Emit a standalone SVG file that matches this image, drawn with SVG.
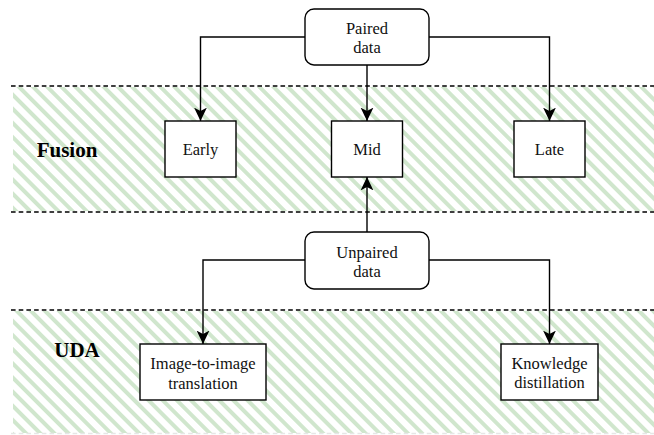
<svg xmlns="http://www.w3.org/2000/svg" width="654" height="435" viewBox="0 0 654 435">
  <defs>
    <pattern id="hatch" patternUnits="userSpaceOnUse" width="10" height="10" patternTransform="rotate(-45)">
      <rect x="0" y="0" width="4" height="10" fill="#d0e6cd"/>
    </pattern>
    <marker id="arrow" markerUnits="userSpaceOnUse" markerWidth="14" markerHeight="14" viewBox="0 0 12 12" refX="11.5" refY="6" orient="auto">
      <path d="M0,0.5 L11.5,6 L0,11.5 L3,6 Z" fill="#000"/>
    </marker>
    <style>
      .node { fill: #fff; stroke: #000; stroke-width: 1.4; }
      .txt { font-size: 16.5px; fill: #111; text-anchor: middle; }
      .lbl { font-size: 21px; font-weight: bold; fill: #000; text-anchor: middle; }
      .edge { fill: none; stroke: #000; stroke-width: 1.4; marker-end: url(#arrow); }
      .band { fill: url(#hatch); stroke: none; }
      .dash { stroke: #000; stroke-width: 1.3; stroke-dasharray: 4.6 3.1; fill: none; }
    </style>
  </defs>
  <rect width="654" height="435" fill="#fff"/>

  <g font-family="'Liberation Serif', 'DejaVu Serif', serif">
  <g id="band-fusion">
    <rect class="band" x="13" y="87" width="641" height="124"/>
    <line class="dash" x1="11" y1="86" x2="654" y2="86"/>
    <line class="dash" x1="11" y1="212" x2="654" y2="212"/>
    <text class="lbl" x="67" y="157">Fusion</text>
  </g>
  <g id="band-uda">
    <rect class="band" x="13" y="311" width="641" height="122"/>
    <line class="dash" x1="11" y1="310" x2="654" y2="310"/>
    <line class="dash" x1="11" y1="433.5" x2="654" y2="433.5" style="stroke:#e6e6e6"/>
    <text class="lbl" x="77" y="357">UDA</text>
  </g>

  <g id="connectors">
    <path class="edge" d="M305,37 H200.5 V121"/>
    <path class="edge" d="M367,65 V121"/>
    <path class="edge" d="M429,37 H549.5 V121"/>
    <path class="edge" d="M367,232 V177"/>
    <path class="edge" d="M305,260 H203 V344"/>
    <path class="edge" d="M429,260 H549.5 V344"/>
  </g>

  <g id="paired">
    <rect class="node" x="305" y="9" width="124" height="56" rx="9"/>
    <text class="txt" x="367" y="33.5">Paired</text>
    <text class="txt" x="367" y="53">data</text>
  </g>
  <g id="early">
    <rect class="node" x="165" y="121" width="71" height="56"/>
    <text class="txt" x="200.5" y="155">Early</text>
  </g>
  <g id="mid">
    <rect class="node" x="331.5" y="121" width="71" height="56"/>
    <text class="txt" x="367" y="155">Mid</text>
  </g>
  <g id="late">
    <rect class="node" x="514" y="121" width="71" height="56"/>
    <text class="txt" x="549.5" y="155">Late</text>
  </g>
  <g id="unpaired">
    <rect class="node" x="305" y="232" width="124" height="57" rx="9"/>
    <text class="txt" x="367" y="257.5">Unpaired</text>
    <text class="txt" x="367" y="277">data</text>
  </g>
  <g id="i2i">
    <rect class="node" x="140" y="344" width="126" height="56"/>
    <text class="txt" x="203" y="369">Image-to-image</text>
    <text class="txt" x="203" y="388.5">translation</text>
  </g>
  <g id="kd">
    <rect class="node" x="501" y="344" width="97" height="56"/>
    <text class="txt" x="549.5" y="368.5">Knowledge</text>
    <text class="txt" x="549.5" y="388">distillation</text>
  </g>
  </g>
</svg>
